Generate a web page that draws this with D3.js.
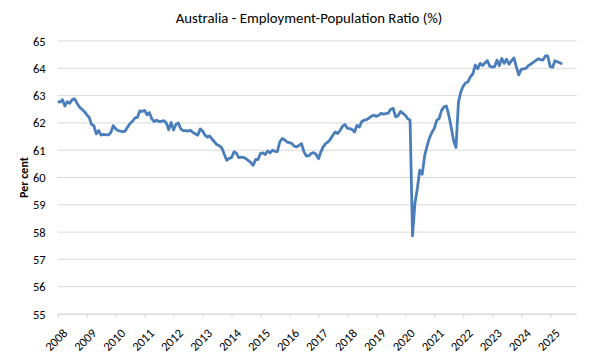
<!DOCTYPE html>
<html>
<head>
<meta charset="utf-8">
<script src="https://cdn.jsdelivr.net/npm/d3@7"></script>
<style>
  html, body { margin: 0; padding: 0; background: #ffffff; }
  svg { display: block; }
  text { font-family: Calibri, Carlito, Lato, "Open Sans", sans-serif; fill: #000; }
</style>
</head>
<body>
<svg id="chart" width="600" height="360"></svg>
<script>
// ---- Data ----
const title = "Australia - Employment-Population Ratio (%)";
const yAxisLabel = "Per cent";
const startYear = 2008;          // first observation: January 2008, monthly
const yearLabels = ["2008","2009","2010","2011","2012","2013","2014","2015","2016","2017","2018","2019","2020","2021","2022","2023","2024","2025"];
const yTicks = [55,56,57,58,59,60,61,62,63,64,65];
// Monthly employment-population ratio (%), Jan 2008 - Jun 2025
const ratio2008 = [62.78,62.76,62.85,62.62,62.78,62.72,62.85,62.88,62.72,62.58,62.50,62.42];
const ratio2009 = [62.30,62.20,61.95,61.90,61.60,61.72,61.55,61.58,61.56,61.56,61.65,61.90];
const ratio2010 = [61.78,61.72,61.70,61.68,61.70,61.85,61.98,62.06,62.18,62.20,62.44,62.42];
const ratio2011 = [62.46,62.30,62.38,62.15,62.05,62.10,62.05,62.06,62.08,62.00,61.75,62.02];
const ratio2012 = [61.74,61.95,62.00,61.78,61.72,61.72,61.70,61.73,61.65,61.60,61.55,61.78];
const ratio2013 = [61.70,61.55,61.48,61.52,61.40,61.30,61.20,61.16,61.08,60.85,60.63,60.70];
const ratio2014 = [60.73,60.94,60.90,60.73,60.75,60.74,60.69,60.62,60.55,60.45,60.66,60.66];
const ratio2015 = [60.88,60.90,60.84,60.97,60.90,61.00,60.96,60.95,61.30,61.43,61.38,61.30];
const ratio2016 = [61.28,61.24,61.15,61.12,61.18,61.24,60.95,60.78,60.80,60.88,60.91,60.85];
const ratio2017 = [60.69,60.94,61.12,61.24,61.30,61.40,61.55,61.67,61.61,61.73,61.88,61.94];
const ratio2018 = [61.80,61.79,61.76,61.67,61.91,61.85,62.05,62.10,62.12,62.18,62.25,62.28];
const ratio2019 = [62.24,62.28,62.35,62.32,62.34,62.36,62.50,62.53,62.22,62.26,62.42,62.35];
const ratio2020 = [62.28,62.15,62.10,57.86,59.05,59.60,60.27,60.12,60.80,61.15,61.45,61.65];
const ratio2021 = [61.80,62.10,62.15,62.45,62.58,62.62,62.30,61.85,61.35,61.10,62.75,63.14];
const ratio2022 = [63.35,63.47,63.50,63.69,63.79,64.12,63.98,64.18,64.10,64.20,64.28,64.08];
const ratio2023 = [64.04,64.06,64.30,64.10,64.36,64.18,64.33,64.15,64.28,64.38,64.05,63.76];
const ratio2024 = [63.96,63.98,64.00,64.10,64.15,64.22,64.28,64.35,64.32,64.30,64.45,64.45];
const ratio2025 = [64.06,64.04,64.28,64.24,64.20,64.16];

const ratioByYear = [ratio2008,ratio2009,ratio2010,ratio2011,ratio2012,ratio2013,ratio2014,ratio2015,ratio2016,ratio2017,ratio2018,ratio2019,ratio2020,ratio2021,ratio2022,ratio2023,ratio2024,ratio2025];

const series = [];
ratioByYear.forEach((arr, yi) => {
  arr.forEach((v, mi) => series.push({ date: new Date(startYear + yi, mi, 1), value: v }));
});

// ---- Layout ----
const svg = d3.select("#chart");
const plotLeft = 57.7, plotRight = 576.7, plotTop = 41, plotBottom = 314;

const x = d3.scaleTime()
  .domain([new Date(2008, 0, 1), new Date(2025, 11, 1)])
  .range([plotLeft, plotRight]);
const y = d3.scaleLinear().domain([55, 65]).range([plotBottom, plotTop]);

// gridlines
svg.append("g")
  .selectAll("line")
  .data(yTicks)
  .join("line")
  .attr("x1", plotLeft).attr("x2", plotRight)
  .attr("y1", d => y(d)).attr("y2", d => y(d))
  .attr("stroke", "#d9d9d9").attr("stroke-width", 1);

// y axis labels
const yAxis = d3.axisLeft(y).tickValues(yTicks).tickSize(0).tickPadding(12).tickFormat(d3.format("d"));
const gy = svg.append("g").attr("transform", `translate(${plotLeft},0)`).call(yAxis);
gy.select(".domain").remove();
gy.selectAll("text").style("font-size", "12.5px").style("font-family", "Calibri, Carlito, Lato, sans-serif").attr("fill", "#000");

// x axis
const xTickDates = yearLabels.map(s => new Date(+s, 0, 1));
const xAxis = d3.axisBottom(x).tickValues(xTickDates).tickSize(4).tickFormat((d, i) => yearLabels[i]);
const gx = svg.append("g").attr("transform", `translate(0,${plotBottom})`).call(xAxis);
gx.select(".domain").attr("stroke", "#d9d9d9").attr("d", `M${plotLeft},0.5H${plotRight}`);
gx.selectAll(".tick line").attr("stroke", "#d9d9d9");
gx.selectAll("text")
  .style("font-size", "12.5px")
  .style("font-family", "Calibri, Carlito, Lato, sans-serif")
  .attr("fill", "#000")
  .attr("text-anchor", "end")
  .attr("dy", "0")
  .attr("transform", "translate(5,15) rotate(-45)");

// line
const line = d3.line().x(d => x(d.date)).y(d => y(d.value));
svg.append("path")
  .datum(series)
  .attr("d", line)
  .attr("fill", "none")
  .attr("stroke", "#4a7ebb")
  .attr("stroke-width", 2.8)
  .attr("stroke-linejoin", "round");

// title
svg.append("text")
  .attr("x", 309).attr("y", 23)
  .attr("text-anchor", "middle")
  .style("font-size", "14.8px")
  .text(title);

// y axis title
svg.append("text")
  .attr("transform", `translate(27.5,${(plotTop + plotBottom) / 2}) rotate(-90)`)
  .attr("text-anchor", "middle")
  .style("font-size", "12px")
  .style("font-weight", "bold")
  .text(yAxisLabel);
</script>
</body>
</html>
